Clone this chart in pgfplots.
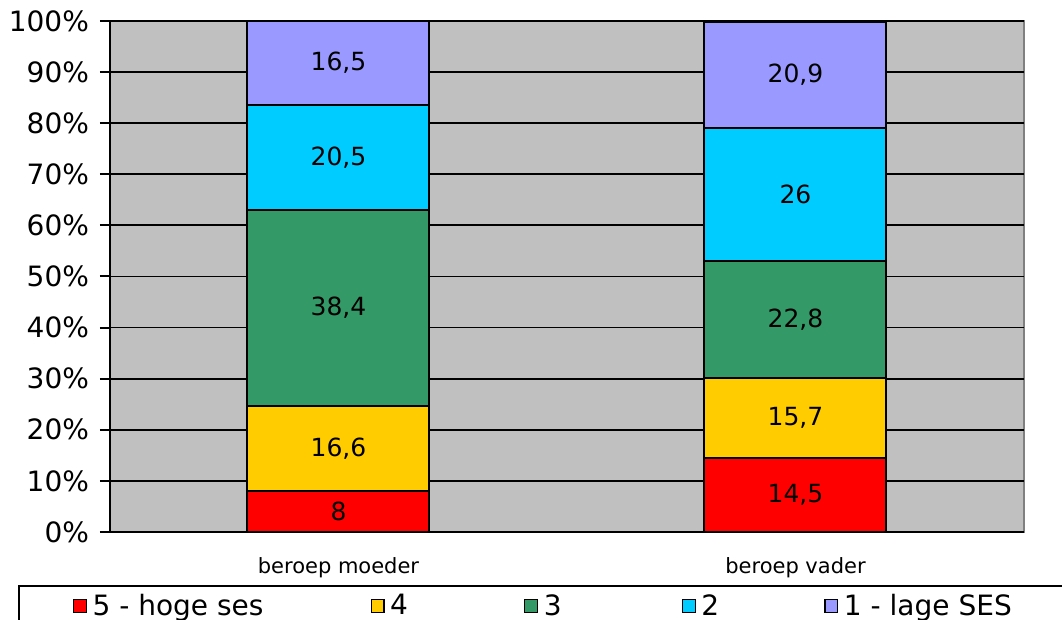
\documentclass[border=0pt]{standalone}
\usepackage{fontspec}
\setmainfont{DejaVu Sans}
\usepackage{pgfplots}
\pgfplotsset{compat=1.18}

\definecolor{bg}{HTML}{C0C0C0}
\definecolor{s5}{HTML}{FF0000}
\definecolor{s4}{HTML}{FFCC00}
\definecolor{s3}{HTML}{339966}
\definecolor{s2}{HTML}{00CCFF}
\definecolor{s1}{HTML}{9999FF}

\pgfplotsset{frame/.style={scale only axis, width=457pt, height=255.5pt,
  xmin=-0.5, xmax=1.5, ymin=0, ymax=100}}

\begin{document}
\begin{tikzpicture}
\clip (-55pt,-44pt) rectangle (476pt,266pt);
\begin{axis}[
  frame,
  ybar stacked, bar width=91pt,
  axis lines*=left,
  axis line style={line width=1pt, black},
  axis background/.style={fill=bg, draw=gray, line width=0.8pt},
  ymajorgrids, grid style={black, line width=0.9pt},
  ytick={0,10,...,100},
  yticklabels={0\%,10\%,20\%,30\%,40\%,50\%,60\%,70\%,80\%,90\%,100\%},
  yticklabel style={font=\fontsize{14}{16}\selectfont, xshift=-2pt},
  xtick={0,1},
  xticklabels={beroep moeder,beroep vader},
  xticklabel style={font=\fontsize{10.5}{12}\selectfont, yshift=-4pt},
  tick align=outside,
  major tick length=5pt,
  tick style={black, line width=1pt},
  major x tick style={draw=none},
  extra x ticks={-0.5,0.5,1.5},
  extra x tick labels={},
  extra x tick style={major tick length=4pt, tick style={black, line width=1pt}},
  legend columns=5,
  legend style={at={(axis description cs:0,0)}, anchor=north west,
    xshift=-46pt, yshift=-26.5pt, draw=black, line width=1pt,
    inner xsep=27pt, inner ysep=4pt,
    nodes={inner sep=0pt, anchor=west, font=\fontsize{14}{16}\selectfont},
    /tikz/every even column/.style={column sep=0pt}},
  legend image code/.code={
    \draw[#1, draw=black, line width=0.6pt] (0pt,-3.2pt) rectangle (6.4pt,3.2pt);
    \path (9pt,0pt);
  },
]
\addplot[fill=s5, draw=black, line width=1pt] coordinates {(0,8) (1,14.5)};
\addplot[fill=s4, draw=black, line width=1pt] coordinates {(0,16.6) (1,15.7)};
\addplot[fill=s3, draw=black, line width=1pt] coordinates {(0,38.4) (1,22.8)};
\addplot[fill=s2, draw=black, line width=1pt] coordinates {(0,20.5) (1,26)};
\addplot[fill=s1, draw=black, line width=1pt] coordinates {(0,16.5) (1,20.9)};
\legend{\makebox[139pt][l]{5 - hoge ses},\makebox[67pt][l]{4},\makebox[69pt][l]{3},\makebox[61.5pt][l]{2},\makebox[100pt][l]{1 - lage SES}}
\end{axis}
% value labels, placed at the middle of each segment
\begin{axis}[
  frame, hide axis,
  point meta=explicit symbolic,
  nodes near coords,
  every node near coord/.append style={anchor=center, text=black,
    font=\fontsize{12.5}{14}\selectfont},
]
\addplot[only marks, mark=none] coordinates {
  (0,4) [8] (0,16.3) [{16,6}] (0,43.8) [{38,4}] (0,73.25) [{20,5}] (0,91.75) [{16,5}]
  (1,7.25) [{14,5}] (1,22.35) [{15,7}] (1,41.6) [{22,8}] (1,66) [26] (1,89.45) [{20,9}]
};
\end{axis}
\end{tikzpicture}
\end{document}
